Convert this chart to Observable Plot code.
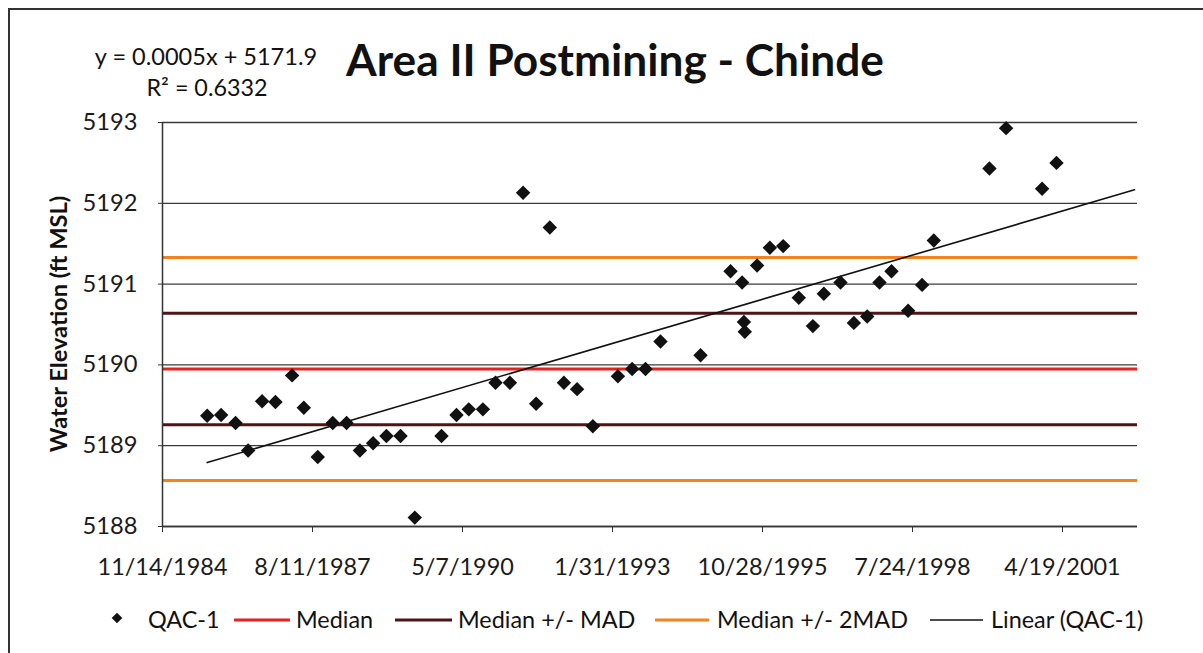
<!DOCTYPE html>
<html><head><meta charset="utf-8">
<script src="https://cdn.jsdelivr.net/npm/d3@7"></script>
<script src="https://cdn.jsdelivr.net/npm/@observablehq/plot@0.6"></script>
<style>
body{margin:0;background:#fff;overflow:hidden}
#wrap{position:relative;width:1203px;height:653px;overflow:hidden;background:#fff}
#frame{position:absolute;left:8px;top:8px;width:1400px;height:900px;border:2px solid #333;box-sizing:border-box}
#plot{position:absolute;left:0;top:0}
#over{position:absolute;left:0;top:0}
</style></head><body>
<div id="wrap"><div id="frame"></div><div id="plot"></div><svg id="over" width="1203" height="653"></svg></div>
<script>
// Sample dates as Excel serial day numbers, and water elevations (ft MSL) for QAC-1
const sampleDates = [31298,31391,31487,31571,31664,31753,31864,31942,32035,32135,
  32227,32316,32404,32493,32587,32682,32860,32960,33042,33136,
  33220,33316,33404,33491,33582,33676,33764,33869,34036,34131,
  34220,34320,34587,34787,34864,34876,34882,34964,35049,35138,
  35242,35336,35409,35520,35609,35698,35780,35860,35971,36064,
  36142,36513,36624,36864,36960];
const elevation = [5189.37,5189.38,5189.28,5188.94,5189.55,5189.54,5189.87,5189.47,5188.86,5189.28,
  5189.28,5188.94,5189.03,5189.12,5189.12,5188.11,5189.12,5189.38,5189.45,5189.45,
  5189.78,5189.78,5192.13,5189.52,5191.70,5189.78,5189.70,5189.24,5189.86,5189.95,
  5189.95,5190.29,5190.12,5191.16,5191.02,5190.53,5190.41,5191.23,5191.45,5191.47,
  5190.83,5190.48,5190.88,5191.02,5190.52,5190.60,5191.02,5191.16,5190.67,5190.99,
  5191.54,5192.43,5192.93,5192.18,5192.50];
const xTicks = [31000,32000,33000,34000,35000,36000,37000];
const yTicks = [5188,5189,5190,5191,5192,5193];
const xDomain = [31000,37500];
const yDomain = [5188,5193];
const medianValue = 5189.95;
const madValue = 0.69;
const trendForecastEnd = 37480;
const titleText = "Area II Postmining - Chinde";
const equationText = "y = 0.0005x + 5171.9";
const r2Text = "R\u00b2 = 0.6332";
const yLabelText = "Water Elevation (ft MSL)";
const legendLabels = ["QAC-1","Median","Median +/- MAD","Median +/- 2MAD","Linear (QAC-1)"];

const RED = "#e42320", DARK = "#4e1418", ORANGE = "#f5821f";
const FONT = "Lato";

const ctx = document.createElement("canvas").getContext("2d");
function fit(text, weight, target){ ctx.font = `${weight} 100px ${FONT}`; return 100*target/ctx.measureText(text).width; }

const points = sampleDates.map((d,i)=>({date:d, value:elevation[i]}));
// least squares trend (Excel linear trendline, forecast forward)
const mx = d3.mean(points,d=>d.date), my = d3.mean(points,d=>d.value);
const slope = d3.sum(points,d=>(d.date-mx)*(d.value-my))/d3.sum(points,d=>(d.date-mx)**2);
const intercept = my - slope*mx;
const trend = [d3.min(sampleDates), trendForecastEnd].map(x=>({date:x, value:intercept+slope*x}));

const fmtDate = s => { const d = new Date(Date.UTC(1899,11,30) + s*864e5); return `${d.getUTCMonth()+1}/${d.getUTCDate()}/${d.getUTCFullYear()}`; };
const xFs = fit(fmtDate(31000),"normal",130);
const yFs = fit("5193","normal",55);

const chart = Plot.plot({
  width:1203, height:600,
  marginLeft:162, marginRight:66, marginTop:122, marginBottom:74,
  x:{domain:xDomain, label:null},
  y:{domain:yDomain, label:null},
  style:{fontFamily:FONT, color:"#1a1a1a", background:"transparent", overflow:"visible"},
  marks:[
    Plot.gridY(yTicks,{stroke:"#3a3a3a", strokeOpacity:1, strokeWidth:1.3}),
    Plot.ruleY([medianValue-2*madValue, medianValue+2*madValue],{stroke:ORANGE, strokeWidth:3}),
    Plot.ruleY([medianValue-madValue, medianValue+madValue],{stroke:DARK, strokeWidth:3}),
    Plot.ruleY([medianValue],{stroke:RED, strokeWidth:3}),
    Plot.line(trend,{x:"date", y:"value", stroke:"#111", strokeWidth:1.6}),
    Plot.dot(points,{x:"date", y:"value", symbol:"diamond2", r:6.5, fill:"#111", stroke:"none"}),
    Plot.ruleX([xDomain[0]],{stroke:"#333", strokeWidth:1.5}),
    Plot.ruleY([yDomain[0]],{stroke:"#333", strokeWidth:1.5}),
    Plot.axisX({ticks:xTicks, tickFormat:fmtDate, tickSize:6, tickPadding:26, fontSize:xFs, label:null, stroke:"#333"}),
    Plot.axisY({ticks:yTicks, tickFormat:d=>String(d), tickSize:4, tickPadding:21, fontSize:yFs, label:null, stroke:"#333"})
  ]
});
document.getElementById("plot").appendChild(chart);

const over = d3.select("#over").style("font-family",FONT).style("fill","#111");
function txt(x,y,s,size,weight,anchor){ return over.append("text").attr("x",x).attr("y",y).attr("font-size",size).attr("font-weight",weight).attr("text-anchor",anchor).text(s); }
txt(615,76,titleText,fit(titleText,"bold",538),"bold","middle");
txt(206,65,equationText,fit(equationText,"normal",223),"normal","middle");
txt(207,96,r2Text,fit(r2Text,"normal",121),"normal","middle");
txt(0,0,yLabelText,fit(yLabelText,"bold",257),"bold","middle").attr("transform","translate(67,324) rotate(-90)");

// legend
const lgFs = fit(legendLabels[3],"normal",191);
const lgY = 620;
const swatches = [{kind:"diamond"},{kind:"line",color:RED,w:3},{kind:"line",color:DARK,w:3},{kind:"line",color:ORANGE,w:3},{kind:"line",color:"#111",w:1.6}];
const swatchX = [[117,117],[234,290],[395,452],[655,709],[930,983]];
const textX = [148,296,458,717,991];
legendLabels.forEach((lab,i)=>{
  const s = swatches[i];
  if(s.kind==="diamond"){
    over.append("path").attr("d",d3.symbol(d3.symbolDiamond2, 72)()).attr("transform",`translate(${swatchX[i][0]},${lgY-2})`).attr("fill","#111");
  } else {
    over.append("line").attr("x1",swatchX[i][0]).attr("x2",swatchX[i][1]).attr("y1",lgY).attr("y2",lgY).attr("stroke",s.color).attr("stroke-width",s.w);
  }
  txt(textX[i],lgY+8,lab,lgFs,"normal","start");
});
</script>
</body></html>
